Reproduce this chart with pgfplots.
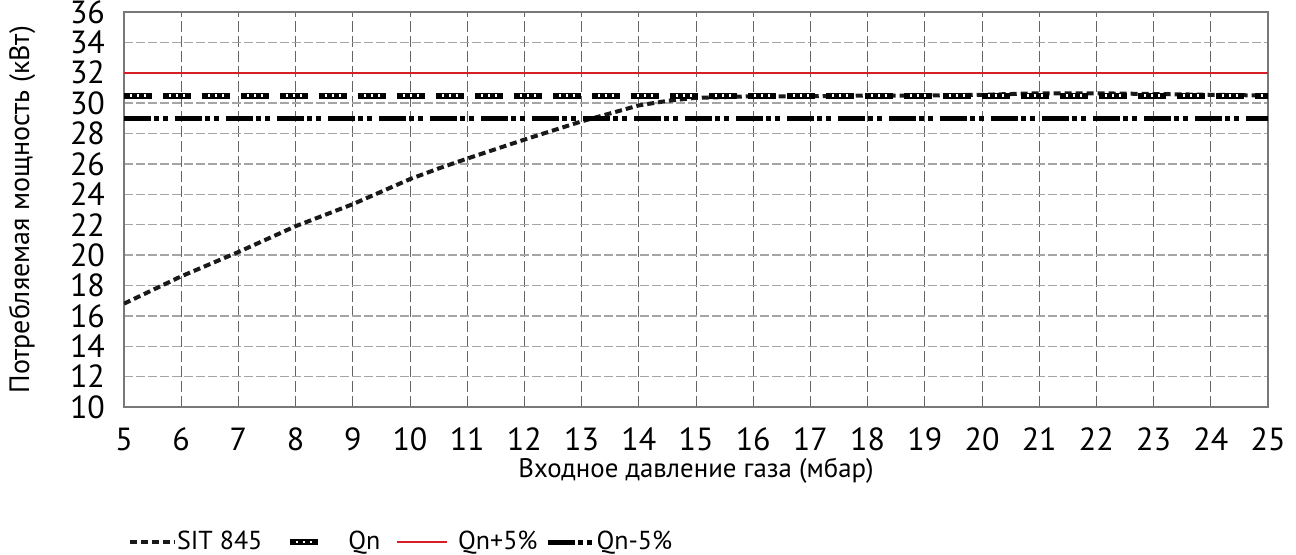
\documentclass[border=0pt]{standalone}
\usepackage{fontspec}
\setmainfont{PT Sans}
\usepackage{pgfplots}
\pgfplotsset{compat=1.18}
\definecolor{qred}{RGB}{215,30,38}
\definecolor{hgrid}{RGB}{165,165,165}
\definecolor{vgrid}{RGB}{100,100,100}
\definecolor{frame}{RGB}{120,120,120}
\begin{document}
\begin{tikzpicture}
\useasboundingbox (0,0) rectangle (648pt,277.5pt);
\begin{axis}[
  at={(62pt,74pt)}, anchor=south west, scale only axis,
  width=572pt, height=197.5pt,
  xmin=5, xmax=25, ymin=10, ymax=36,
  xtick={5,...,25}, ytick={10,12,...,36},
  grid=major,
  x grid style={vgrid, line width=0.5pt, dash pattern=on 5.5pt off 2pt},
  y grid style={hgrid, line width=0.7pt, dash pattern=on 4.5pt off 1.5pt},
  axis line style={frame, line width=0.8pt},
  major tick length=0pt,
  /pgf/number format/assume math mode=true,
  ticklabel style={font=\fontsize{16}{18}\selectfont},
  xticklabel style={yshift=-7pt},
  yticklabel style={xshift=-6pt},
  xlabel={Входное давление газа (мбар)},
  ylabel={Потребляемая мощность (кВт)},
  xlabel style={font=\fontsize{13.4}{15}\selectfont, at={(axis description cs:0.5,-0.162)}, anchor=center},
  ylabel style={font=\fontsize{14}{16}\selectfont, at={(axis description cs:-0.0892,0.5)}, anchor=center},
  legend style={at={(axis description cs:-0.002,-0.342)}, anchor=west,
    draw=none, fill=none, font=\fontsize{13}{15}\selectfont,
    /tikz/column 1/.style={column sep=-2pt},
    /tikz/column 2/.style={column sep=10.5pt},
    /tikz/column 3/.style={column sep=8.5pt},
    /tikz/column 4/.style={column sep=6pt},
    /tikz/column 5/.style={column sep=3pt},
    /tikz/column 6/.style={column sep=2pt},
    /tikz/column 7/.style={column sep=-2.5pt}},
  legend columns=-1,
  legend cell align=left,
]
\addplot[black!90, line width=2pt, dash pattern=on 3.5pt off 2pt,
  legend image code/.code={\draw (0pt,0pt) -- (22.5pt,0pt);}] coordinates {
 (5,16.8) (6,18.6) (7,20.2) (8,21.9) (9,23.35) (10,25.0) (10.5,25.7) (11,26.35)
 (12,27.6) (13,28.8) (14,29.85) (14.5,30.15) (15,30.35) (16,30.45) (17,30.45)
 (18,30.5) (19,30.5) (20,30.55) (21,30.65) (22,30.65) (23,30.6) (24,30.55) (25,30.5)
};
\addlegendentry{SIT 845}
\addplot[black, line width=3pt, dash pattern=on 14pt off 5.5pt,
  postaction={draw=white, line width=1.1pt,
    dash pattern=on 0pt off 3pt on 1pt off 2.5pt on 1pt off 2.5pt on 1pt off 8.5pt},
  legend image code/.code={\draw (0pt,0pt) -- (17pt,0pt);}]
  coordinates {(5,30.5) (25,30.5)};
\addlegendentry{Qn}
\addplot[qred, line width=0.9pt,
  legend image code/.code={\draw (0pt,0pt) -- (25pt,0pt);}] coordinates {(5,32) (25,32)};
\addlegendentry{Qn+5\%}
\addplot[black, line width=2.5pt,
  dash pattern=on 13.5pt off 1.7pt on 2.5pt off 2pt on 2.3pt off 3.5pt,
  legend image code/.code={\draw (0pt,0pt) -- (23.5pt,0pt);}]
  coordinates {(5,29) (25,29)};
\addlegendentry{Qn-5\%}
\end{axis}
\end{tikzpicture}
\end{document}
